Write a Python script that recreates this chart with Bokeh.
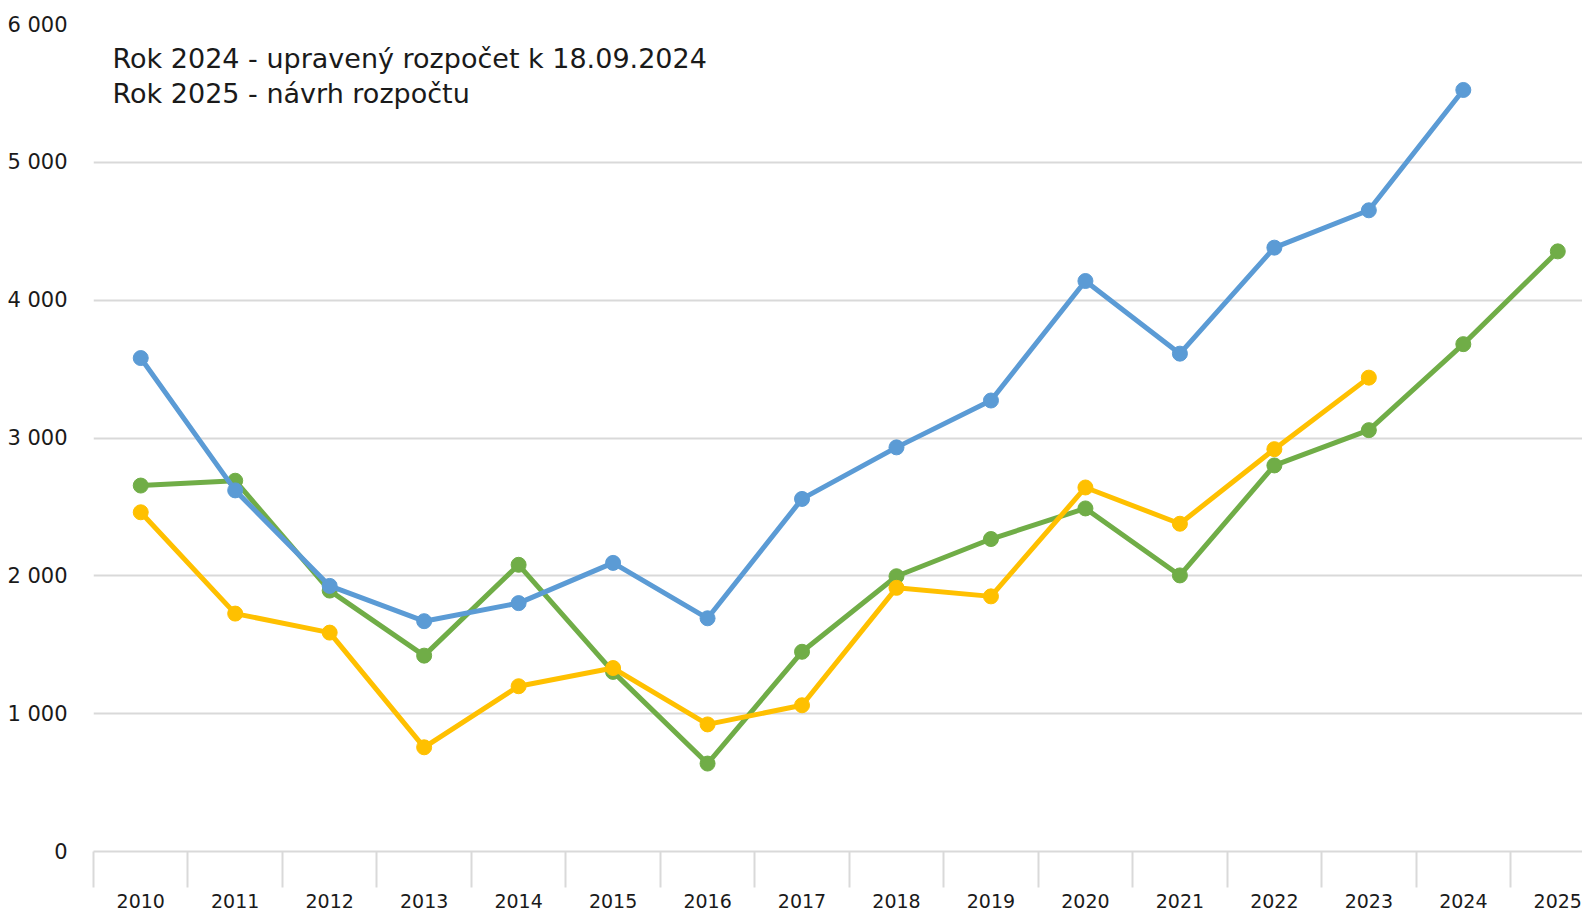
from bokeh.plotting import figure
from bokeh.models import Range1d, FixedTicker, Label
from bokeh.embed import file_html
from bokeh.resources import INLINE

years = [str(y) for y in range(2010, 2026)]
blue_vals = [3580, 2620, 1927, 1671, 1802, 2094, 1692, 2558, 2932, 3272, 4139, 3612, 4381, 4652, 5525, None]
green_vals = [2655, 2690, 1893, 1421, 2080, 1303, 638, 1449, 1997, 2267, 2489, 2003, 2801, 3057, 3681, 4354]
yellow_vals = [2461, 1726, 1588, 756, 1199, 1331, 922, 1061, 1913, 1851, 2641, 2378, 2919, 3438, None, None]
y_ticks = [0, 1000, 2000, 3000, 4000, 5000, 6000]
y_tick_labels = ["0", "1 000", "2 000", "3 000", "4 000", "5 000", "6 000"]
note_lines = ["Rok 2024 - upravený rozpočet k 18.09.2024", "Rok 2025 - návrh rozpočtu"]

FONT = "DejaVu Sans"
W, H = 1582, 910
left_b, top_b, bot_b = 93, 24, 36
cat_w = 94.47
x_end = -0.5 + (W - left_b) / cat_w

p = figure(width=W, height=H, output_backend="svg", toolbar_location=None,
           x_range=Range1d(-0.5, x_end), y_range=Range1d(0, 6000),
           min_border_left=left_b, min_border_right=0, min_border_top=top_b,
           min_border_bottom=bot_b)
p.outline_line_color = None
p.background_fill_color = "white"

idx = list(range(len(years)))
p.xaxis.ticker = FixedTicker(ticks=idx, minor_ticks=[i - 0.5 for i in range(len(years) + 1)])
p.xaxis.major_label_overrides = {i: y for i, y in zip(idx, years)}
p.xaxis.major_tick_out = 0
p.xaxis.major_tick_in = 0
p.xaxis.minor_tick_out = 36
p.xaxis.minor_tick_in = 0
p.xaxis.minor_tick_line_color = "#d9d9d9"
p.xaxis.minor_tick_line_width = 2
p.xaxis.axis_line_color = "#d9d9d9"
p.xaxis.axis_line_width = 2
p.xaxis.major_label_text_font = FONT
p.xaxis.major_label_text_font_size = "19px"
p.xaxis.major_label_text_color = "#1a1a1a"
p.xaxis.major_label_standoff = 6

p.yaxis.ticker = FixedTicker(ticks=y_ticks)
p.yaxis.major_label_overrides = {t: l for t, l in zip(y_ticks, y_tick_labels)}
p.yaxis.axis_line_color = None
p.yaxis.major_tick_line_color = None
p.yaxis.minor_tick_line_color = None
p.yaxis.major_label_text_font = FONT
p.yaxis.major_label_text_font_size = "21px"
p.yaxis.major_label_text_color = "#1a1a1a"
p.yaxis.major_label_standoff = 20

p.xgrid.grid_line_color = None
p.ygrid.grid_line_color = "#d9d9d9"
p.ygrid.grid_line_width = 2

def draw(vals, color):
    xs = [i for i, v in zip(idx, vals) if v is not None]
    ys = [v for v in vals if v is not None]
    p.line(xs, ys, line_color=color, line_width=5, line_join="round")
    p.scatter(xs, ys, size=15, fill_color=color, line_color=color)

draw(green_vals, "#70AD47")
draw(yellow_vals, "#FFC000")
draw(blue_vals, "#5B9BD5")

px_per_unit = (H - top_b - bot_b) / 6000.0
x_note = -0.5 + (112 - left_b) / cat_w
for k, line in enumerate(note_lines):
    yy = 6000 - (35 + 36 * k) / px_per_unit
    p.add_layout(Label(x=x_note, y=yy, text=line, text_font=FONT, text_font_size="27px",
                       text_color="#1a1a1a", text_baseline="middle", text_align="left"))

open("out.html", "w").write(file_html(p, INLINE))
